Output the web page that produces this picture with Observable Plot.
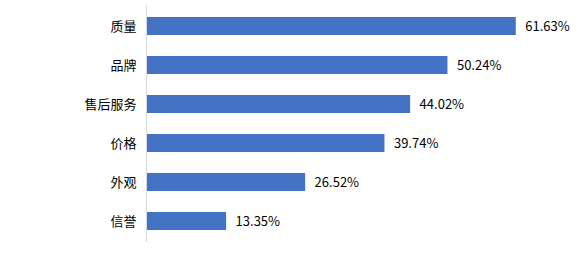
<!DOCTYPE html>
<html>
<head>
<meta charset="utf-8">
<script src="https://cdn.jsdelivr.net/npm/d3@7"></script>
<script src="https://cdn.jsdelivr.net/npm/@observablehq/plot@0.6"></script>
<style>
body { margin: 0; background: #fff; }
</style>
</head>
<body>
<div id="chart"></div>
<script>
const categories = ["质量", "品牌", "售后服务", "价格", "外观", "信誉"];
const values = [61.63, 50.24, 44.02, 39.74, 26.52, 13.35];

const data = categories.map((c, i) => ({category: c, value: values[i]}));

const chart = Plot.plot({
  width: 579,
  height: 257,
  marginLeft: 146,
  marginRight: 13,
  marginTop: 5,
  marginBottom: 15,
  style: {fontFamily: "'Noto Sans CJK SC', sans-serif", fontSize: "13px", color: "#000", background: "#fff"},
  x: {domain: [0, 70], axis: null},
  y: {domain: categories, paddingInner: 0.54, paddingOuter: 0.27, label: null},
  marks: [
    Plot.barX(data, {x: "value", y: "category", fill: "#4472C4"}),
    Plot.ruleX([0], {stroke: "#d9d9d9", strokeWidth: 1}),
    Plot.text(data, {x: "value", y: "category", text: d => d.value.toFixed(2) + "%", textAnchor: "start", dx: 9, fill: "#000", fontSize: 13}),
    Plot.axisY({tickSize: 0, tickPadding: 10, label: null, fontSize: 13})
  ]
});
document.getElementById("chart").appendChild(chart);
</script>
</body>
</html>
